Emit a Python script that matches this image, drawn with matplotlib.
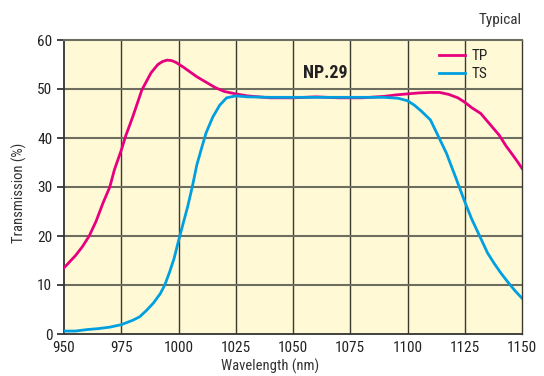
import matplotlib
matplotlib.use("Agg")
import matplotlib.pyplot as plt
from matplotlib import font_manager

# condensed face if one is around, else Liberation Sans
names = {f.name for f in font_manager.fontManager.ttflist}
fams = [n for n in ['Liberation Sans Narrow', 'DejaVu Sans Condensed', 'Roboto Condensed']
        if n in names]
plt.rcParams['font.family'] = fams + ['Liberation Sans', 'DejaVu Sans']

# TP curve (magenta)
tp_wl = [950, 955, 958, 961, 964, 967, 970, 972, 975, 977, 980, 984, 988, 991, 993,
         995, 997, 999, 1002, 1005, 1008, 1012, 1016, 1020, 1025, 1030, 1035, 1040,
         1050, 1060, 1070, 1080, 1090, 1095, 1100, 1105, 1110, 1114, 1118, 1122,
         1125, 1128, 1132, 1136, 1140, 1143, 1146, 1148, 1150]
tp_val = [13.5, 16, 17.8, 20, 23, 26.7, 30, 33.5, 37.5, 40.5, 44.3, 49.8, 53.3, 55, 55.6,
          55.9, 55.8, 55.4, 54.5, 53.5, 52.5, 51.4, 50.3, 49.5, 49, 48.6, 48.4, 48.2,
          48.2, 48.4, 48.2, 48.2, 48.5, 48.8, 49, 49.2, 49.3, 49.3, 48.9, 48.2,
          47.3, 46.2, 45, 42.8, 40.6, 38.4, 36.5, 35.2, 33.8]

# TS curve (cyan)
ts_wl = [950, 955, 960, 965, 970, 975, 980, 983, 986, 989, 992, 994, 996, 998, 1000,
         1002, 1004, 1006, 1008, 1010, 1012, 1015, 1018, 1021, 1025, 1030, 1040, 1050,
         1060, 1070, 1080, 1090, 1096, 1100, 1103, 1106, 1110, 1113, 1117, 1121, 1125,
         1128, 1131, 1135, 1138, 1141, 1144, 1147, 1150]
ts_val = [0.6, 0.6, 0.9, 1.1, 1.4, 1.9, 2.8, 3.5, 4.8, 6.3, 8.2, 10, 12.5, 15.3, 19,
          22.5, 26, 30, 34.5, 37.8, 41, 44.3, 46.7, 48.2, 48.6, 48.4, 48.3, 48.3,
          48.3, 48.3, 48.3, 48.3, 48.1, 47.6, 46.7, 45.5, 43.7, 40.8, 36.9, 32, 27,
          23.5, 20.5, 16.5, 14.3, 12.3, 10.5, 8.8, 7.3]

x_ticks = [950, 975, 1000, 1025, 1050, 1075, 1100, 1125, 1150]
y_ticks = [0, 10, 20, 30, 40, 50, 60]

fig = plt.figure(figsize=(5.44, 3.76), dpi=100)
ax = fig.add_axes([64 / 544, 1 - 334 / 376, 458 / 544, 294 / 376])
ax.set_facecolor('#FFF9D6')

ax.plot(tp_wl, tp_val, color='#E6007E', lw=2, label='TP', zorder=3)
ax.plot(ts_wl, ts_val, color='#00A0E0', lw=2, label='TS', zorder=3)

ax.set_xlim(950, 1150)
ax.set_ylim(0, 60)
ax.set_xticks(x_ticks)
ax.set_yticks(y_ticks)
ax.tick_params(axis='x', length=0, labelsize=11, pad=5, colors='#222')
ax.tick_params(axis='y', length=5, width=1.2, labelsize=11, colors='#222', direction='out')

for v in x_ticks[1:-1]:
    ax.axvline(v, color='#3a3a30', lw=1, zorder=1)
for v in y_ticks[1:-1]:
    ax.axhline(v, color='#6e6e60', lw=1.5, zorder=1)

ax.spines['top'].set_color('#6e6e60')
ax.spines['top'].set_linewidth(1.5)
ax.spines['right'].set_color('#3a3a30')
ax.spines['right'].set_linewidth(1)
for s in ['left', 'bottom']:
    ax.spines[s].set_color('#333')
    ax.spines[s].set_linewidth(1.3)

ax.set_xlabel('Wavelength (nm)', fontsize=10.5, color='#333')
ax.xaxis.set_label_coords(0.45, -0.085)
ax.set_ylabel('Transmission (%)', fontsize=10.5, color='#333')
ax.yaxis.set_label_coords(-0.08, 0.48)

ax.text(1064, 53.2, 'NP.29', fontsize=13, fontweight='bold', color='#222',
        ha='center', va='center')

leg = ax.legend(loc='upper right', bbox_to_anchor=(0.955, 1.015), frameon=False,
                fontsize=11, handlelength=1.7, handletextpad=0.4, labelspacing=0.25)
for t in leg.get_texts():
    t.set_color('#222')

fig.text(522 / 544, 1 - 20 / 376, 'Typical', fontsize=11, color='#333',
         ha='right', va='center')

fig.savefig('out.png', dpi=100)
